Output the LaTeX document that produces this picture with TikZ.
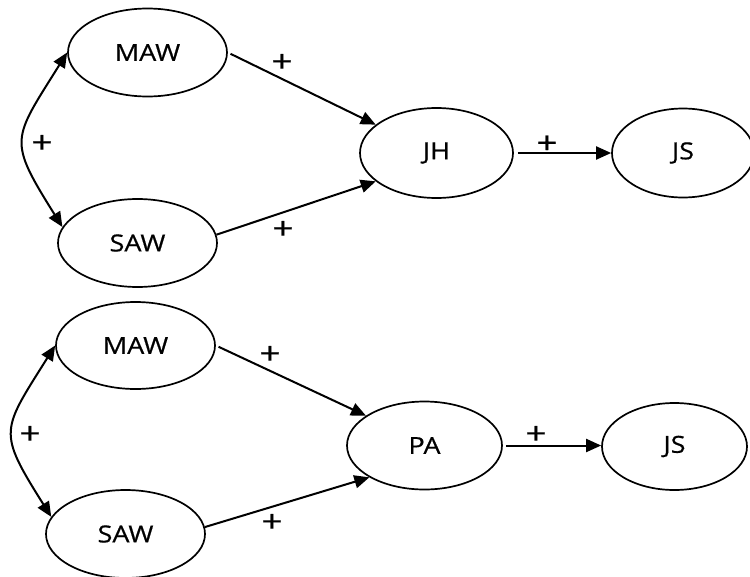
\documentclass[tikz,border=0pt]{standalone}
\usepackage{fontspec}
\setmainfont{Open Sans}
\newfontfamily\lbl[FakeStretch=1.15,FakeBold=0.6]{Open Sans}
\newfontfamily\sgn[FakeStretch=1.22,FakeBold=0.6]{Open Sans}
\usetikzlibrary{shapes.geometric,arrows.meta}
\begin{document}
\begin{tikzpicture}[x=1pt,y=-1pt,
  var/.style={ellipse,draw,line width=1.7pt,inner sep=0pt,font=\lbl\fontsize{23.5}{28}\selectfont},
  link/.style={line width=2pt,-{Triangle[length=15pt,width=13pt]}},
  both/.style={line width=2pt,{Triangle[length=15pt,width=13pt]}-{Triangle[length=15pt,width=13pt]}},
  sign/.style={font=\sgn\fontsize{30}{34}\selectfont,inner sep=0pt}]
\useasboundingbox (0,0) rectangle (750,576);
% top diagram
\node[var,minimum width=159pt,minimum height=88pt] (maw1) at (147.5,52.5) {MAW};
\node[var,minimum width=159pt,minimum height=88pt] (saw1) at (137.5,243) {SAW};
\node[var,minimum width=153pt,minimum height=90pt] (jh) at (436.5,153) {JH};
\node[var,minimum width=142pt,minimum height=89pt] (js1) at (683,153) {JS};
\draw[link,shorten <=3pt] (maw1.east) -- (jh.155);
\draw[link] (saw1.6) -- (jh.205);
\draw[link,shorten <=4pt] (jh.east) -- (js1.west);
\draw[both] (maw1.west) .. controls +(-55,88) and +(-55,-88) .. (saw1.168);
\node[sign] (s1) at (282,63) {+};
\node[sign] (s2) at (283,230) {+};
\node[sign] (s3) at (42,144) {+};
\node[sign] (s4) at (547,144.5) {+};
% bottom diagram
\node[var,minimum width=159pt,minimum height=87pt] (maw2) at (135.5,345.5) {MAW};
\node[var,minimum width=159pt,minimum height=88pt] (saw2) at (125.5,534) {SAW};
\node[var,minimum width=155pt,minimum height=88pt] (pa) at (424.5,445.5) {PA};
\node[var,minimum width=145pt,minimum height=87pt] (js2) at (674.5,446.5) {JS};
\draw[link,shorten <=3pt] (maw2.east) -- (pa.153);
\draw[link] (saw2.5) -- (pa.210);
\draw[link,shorten <=3pt] (pa.east) -- (pa.east -| js2.west);
\draw[both] (maw2.west) .. controls +(-54,86) and +(-54,-86) .. (saw2.167);
\node[sign] (s5) at (270,355) {+};
\node[sign] (s6) at (272,523) {+};
\node[sign] (s7) at (30,435) {+};
\node[sign] (s8) at (536,435) {+};
\end{tikzpicture}
\end{document}
